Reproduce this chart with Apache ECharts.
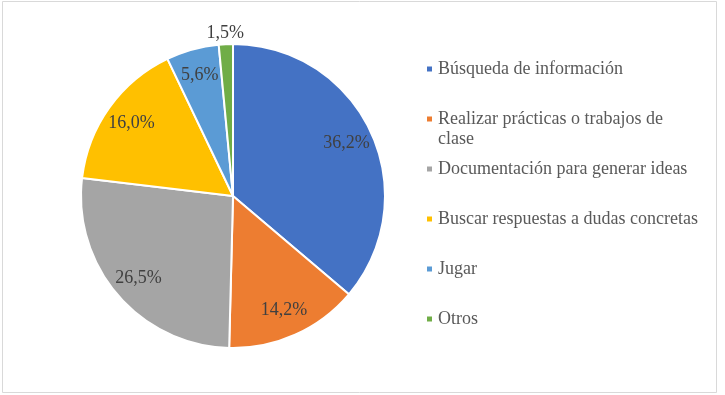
<!DOCTYPE html>
<html>
<head>
<meta charset="utf-8">
<script src="https://cdn.jsdelivr.net/npm/echarts@6/dist/echarts.min.js"></script>
<style>
  html, body { margin: 0; padding: 0; background: #fff; }
  #chart { width: 725px; height: 395px; }
</style>
</head>
<body>
<div id="chart"></div>
<script>
const categories = [
  'Búsqueda de información',
  'Realizar prácticas o trabajos de clase',
  'Documentación para generar ideas',
  'Buscar respuestas a dudas concretas',
  'Jugar',
  'Otros'
];
const values = [36.2, 14.2, 26.5, 16.0, 5.6, 1.5];
const colors = ['#4472C4', '#ED7D31', '#A5A5A5', '#FFC000', '#5B9BD5', '#70AD47'];
const legendLines = {
  'Realizar prácticas o trabajos de clase': 'Realizar prácticas o trabajos de\nclase'
};

const FONT = 'Liberation Serif';
const fmt = v => v.toFixed(1).replace('.', ',') + '%';
const CENTER = [233, 196];

const mainData = categories.map((name, i) => ({
  name, value: values[i], itemStyle: { color: colors[i] }
}));
const labelData = categories.map((name, i) => ({
  name, value: values[i],
  label: { show: name !== 'Otros' }
}));
const outerLabelData = categories.map((name, i) => ({
  name, value: values[i],
  label: { show: name === 'Otros' }
}));

const overlayBase = {
  type: 'pie',
  center: CENTER,
  startAngle: 90,
  silent: true,
  animation: false,
  legendHoverLink: false,
  itemStyle: { color: 'transparent', borderWidth: 0 },
  emphasis: { disabled: true },
  labelLine: { show: false },
  label: {
    position: 'inside',
    formatter: p => fmt(p.value),
    color: '#404040',
    fontSize: 18,
    fontFamily: FONT
  }
};

const chart = echarts.init(document.getElementById('chart'), null, { renderer: 'canvas' });
chart.setOption({
  animation: false,
  backgroundColor: '#ffffff',
  textStyle: { fontFamily: FONT },
  graphic: [{
    type: 'rect',
    shape: { x: 2.5, y: 1.5, width: 714, height: 391 },
    style: { fill: 'none', stroke: '#d9d9d9', lineWidth: 1 },
    silent: true
  }],
  legend: {
    orient: 'vertical',
    left: 420,
    top: 34,
    itemWidth: 7,
    itemHeight: 7,
    itemGap: -10,
    icon: 'rect',
    data: categories,
    formatter: name => '\n' + (legendLines[name] || (name + '\n')),
    textStyle: {
      fontFamily: FONT,
      fontSize: 18,
      lineHeight: 20,
      color: '#595959'
    }
  },
  series: [
    {
      type: 'pie',
      center: CENTER,
      radius: 152,
      startAngle: 90,
      data: mainData,
      itemStyle: { borderColor: '#ffffff', borderWidth: 2 },
      label: { show: false },
      labelLine: { show: false },
      emphasis: { disabled: true }
    },
    Object.assign({}, overlayBase, { radius: [110, 134], data: labelData }),
    Object.assign({}, overlayBase, { radius: [152, 168], data: outerLabelData })
  ]
});
</script>
</body>
</html>
